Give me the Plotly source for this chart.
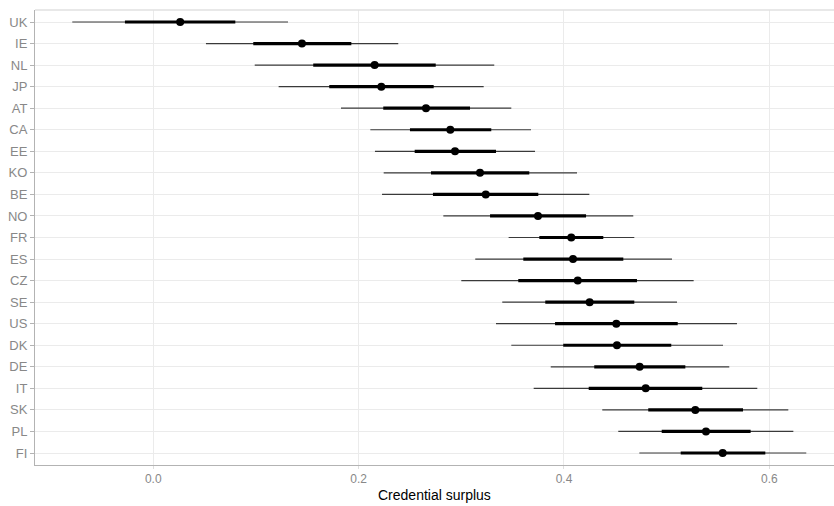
import plotly.graph_objects as go

countries = ["UK", "IE", "NL", "JP", "AT", "CA", "EE", "KO", "BE", "NO", "FR",
             "ES", "CZ", "SE", "US", "DK", "DE", "IT", "SK", "PL", "FI"]
lo95 = [-0.0789, 0.0513, 0.0988, 0.1221, 0.1828, 0.2114, 0.2159, 0.2244, 0.2228, 0.2825, 0.3461,
        0.3136, 0.3000, 0.3399, 0.3338, 0.3487, 0.3871, 0.3705, 0.4373, 0.4529, 0.4734]
lo50 = [-0.0276, 0.0974, 0.1558, 0.1714, 0.2240, 0.2500, 0.2546, 0.2705, 0.2724, 0.3280, 0.3760,
        0.3604, 0.3555, 0.3818, 0.3913, 0.3993, 0.4295, 0.4241, 0.4821, 0.4952, 0.5137]
median = [0.0262, 0.1448, 0.2156, 0.2221, 0.2656, 0.2893, 0.2939, 0.3182, 0.3238, 0.3747, 0.4071,
          0.4088, 0.4134, 0.4250, 0.4510, 0.4516, 0.4737, 0.4796, 0.5279, 0.5383, 0.5546]
hi50 = [0.0799, 0.1929, 0.2751, 0.2731, 0.3085, 0.3292, 0.3338, 0.3662, 0.3750, 0.4215, 0.4383,
        0.4578, 0.4711, 0.4685, 0.5108, 0.5045, 0.5182, 0.5347, 0.5744, 0.5818, 0.5961]
hi95 = [0.1312, 0.2386, 0.3321, 0.3218, 0.3487, 0.3679, 0.3718, 0.4127, 0.4247, 0.4675, 0.4685,
        0.5052, 0.5263, 0.5101, 0.5685, 0.5549, 0.5610, 0.5883, 0.6185, 0.6234, 0.6360]
x_ticks = [0.0, 0.2, 0.4, 0.6]
x_tick_labels = ["0.0", "0.2", "0.4", "0.6"]


def segs(a, b):
    xs, ys = [], []
    for c, l, h in zip(countries, a, b):
        xs += [l, h, None]
        ys += [c, c, None]
    return xs, ys


fig = go.Figure()
xs, ys = segs(lo95, hi95)
fig.add_trace(go.Scatter(x=xs, y=ys, mode="lines", line=dict(color="#3a3a3a", width=1.2),
                         hoverinfo="skip", showlegend=False))
xs, ys = segs(lo50, hi50)
fig.add_trace(go.Scatter(x=xs, y=ys, mode="lines", line=dict(color="#000000", width=3.2),
                         hoverinfo="skip", showlegend=False))
fig.add_trace(go.Scatter(x=median, y=countries, mode="markers",
                         marker=dict(color="#000000", size=8), showlegend=False))

fig.update_layout(
    width=834, height=506,
    margin=dict(l=35, r=0, t=10, b=41, autoexpand=False),
    paper_bgcolor="white", plot_bgcolor="white",
    font=dict(family="Liberation Sans, Arial, sans-serif"),
    xaxis=dict(
        range=[-0.1152, 0.663], tickvals=x_ticks, ticktext=x_tick_labels,
        showgrid=True, gridcolor="#ebebeb", gridwidth=1, zeroline=False,
        showline=True, linecolor="#b3b3b3", linewidth=1, automargin=False,
        ticks="outside", ticklen=3, tickcolor="#dedede",
        tickfont=dict(size=12, color="#888888"),
    ),
    yaxis=dict(
        type="category", categoryorder="array", categoryarray=countries,
        range=[20.557, -0.557], automargin=False,
        showgrid=True, gridcolor="#ebebeb", gridwidth=1, zeroline=False,
        showline=True, linecolor="#b3b3b3", linewidth=1,
        ticks="outside", ticklen=4, tickcolor="#b3b3b3",
        tickfont=dict(size=13, color="#888888"),
    ),
    shapes=[dict(type="line", xref="paper", yref="paper", x0=0, x1=1, y0=1, y1=1,
                 line=dict(color="#e0e0e0", width=1.5))],
    annotations=[dict(text="Credential surplus", xref="paper", yref="paper",
                      x=0.5, y=-0.065, xanchor="center", yanchor="middle",
                      showarrow=False, font=dict(size=14, color="#000000"))],
)

fig.write_html(
    "out.html",
    config={"displayModeBar": False},
    post_script="document.body.style.margin='0';document.documentElement.style.overflow='hidden';",
)
